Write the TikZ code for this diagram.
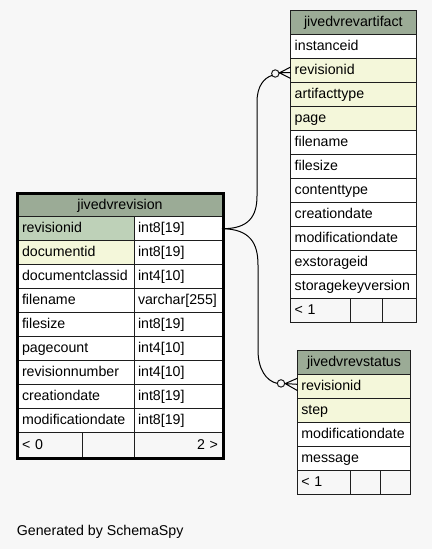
\documentclass[tikz,border=0pt]{standalone}
\usepackage{fontspec}
\setmainfont{Liberation Sans}
\definecolor{bgc}{HTML}{F7F7F7}
\definecolor{hdrc}{HTML}{9BAB96}
\definecolor{pkc}{HTML}{BED1B8}
\definecolor{fkc}{HTML}{F4F7DA}
\definecolor{edgec}{HTML}{1E1E1E}
\newcommand\cellfont{\fontsize{14.2}{16}\selectfont}
\tikzset{
  cell/.style={draw=edgec, line width=0.8pt, fill=white, inner xsep=4pt, inner ysep=0pt,
    outer sep=0pt, minimum height=24pt, text height=11pt, text depth=2.5pt,
    anchor=north west, align=left, font=\cellfont},
  hdr/.style={cell, fill=hdrc, align=center},
  pk/.style={cell, fill=pkc},
  fk/.style={cell, fill=fkc},
  foot/.style={cell, fill=bgc},
  mainL/.style={minimum width=116pt, text width=108pt},
  mainR/.style={minimum width=88pt, text width=80pt},
  artW/.style={minimum width=125.3pt, text width=117.3pt},
  stW/.style={minimum width=113.4pt, text width=105.4pt},
  odot/.style={circle, draw=edgec, fill=bgc, line width=1pt, minimum size=7.4pt, inner sep=0pt, outer sep=0pt},
  rel/.style={draw=black, line width=1pt},
}
\begin{document}
\begin{tikzpicture}[x=1pt,y=-1pt]
\useasboundingbox[fill=bgc] (0,0) rectangle (432,549);

% ---------- jivedvrevision ----------
\node[hdr, minimum width=204pt, text width=196pt, minimum height=23.7pt] (r-h) at (18,193) {jivedvrevision};
\node[pk, mainL] (r-revisionid) at (18,216.7) {revisionid};
\node[cell, mainR] (r-revisionid-t) at (134,216.7) {int8[19]};
\node[fk, mainL] (r-documentid) at (18,240.7) {documentid};
\node[cell, mainR] (r-documentid-t) at (134,240.7) {int8[19]};
\node[cell, mainL] (r-documentclassid) at (18,264.7) {documentclassid};
\node[cell, mainR] (r-documentclassid-t) at (134,264.7) {int4[10]};
\node[cell, mainL] (r-filename) at (18,288.7) {filename};
\node[cell, mainR] (r-filename-t) at (134,288.7) {varchar[255]};
\node[cell, mainL] (r-filesize) at (18,312.7) {filesize};
\node[cell, mainR] (r-filesize-t) at (134,312.7) {int8[19]};
\node[cell, mainL] (r-pagecount) at (18,336.7) {pagecount};
\node[cell, mainR] (r-pagecount-t) at (134,336.7) {int4[10]};
\node[cell, mainL] (r-revisionnumber) at (18,360.7) {revisionnumber};
\node[cell, mainR] (r-revisionnumber-t) at (134,360.7) {int4[10]};
\node[cell, mainL] (r-creationdate) at (18,384.7) {creationdate};
\node[cell, mainR] (r-creationdate-t) at (134,384.7) {int8[19]};
\node[cell, mainL] (r-modificationdate) at (18,408.7) {modificationdate};
\node[cell, mainR] (r-modificationdate-t) at (134,408.7) {int8[19]};
\node[foot, minimum width=64pt, text width=56pt, minimum height=25.3pt] (r-f1) at (18,432.7) {< 0};
\node[foot, minimum width=52pt, minimum height=25.3pt] (r-f2) at (82,432.7) {};
\node[foot, minimum width=88pt, text width=80pt, align=right, minimum height=25.3pt] (r-f3) at (134,432.7) {2 >};
\draw[draw=black, line width=3pt] (17.5,193) rectangle (223,458);

% ---------- jivedvrevartifact ----------
\node[hdr, artW, minimum height=23.3pt] (a-h) at (290.7,10.7) {jivedvrevartifact};
\node[cell, artW] (a-instanceid) at (290.7,34) {instanceid};
\node[fk, artW] (a-revisionid) at (290.7,58) {revisionid};
\node[fk, artW] (a-artifacttype) at (290.7,82) {artifacttype};
\node[fk, artW] (a-page) at (290.7,106) {page};
\node[cell, artW] (a-filename) at (290.7,130) {filename};
\node[cell, artW] (a-filesize) at (290.7,154) {filesize};
\node[cell, artW] (a-contenttype) at (290.7,178) {contenttype};
\node[cell, artW] (a-creationdate) at (290.7,202) {creationdate};
\node[cell, artW] (a-modificationdate) at (290.7,226) {modificationdate};
\node[cell, artW] (a-exstorageid) at (290.7,250) {exstorageid};
\node[cell, artW] (a-storagekeyversion) at (290.7,274) {storagekeyversion};
\node[foot, minimum width=60pt, text width=52pt] (a-f1) at (290.7,298) {< 1};
\node[foot, minimum width=32pt] (a-f2) at (350.7,298) {};
\node[foot, minimum width=33.3pt] (a-f3) at (382.7,298) {};

% ---------- jivedvrevstatus ----------
\node[hdr, stW] (s-h) at (297.3,350.7) {jivedvrevstatus};
\node[fk, stW] (s-revisionid) at (297.3,374.7) {revisionid};
\node[fk, stW] (s-step) at (297.3,398.7) {step};
\node[cell, stW] (s-modificationdate) at (297.3,422.7) {modificationdate};
\node[cell, stW] (s-message) at (297.3,446.7) {message};
\node[foot, minimum width=53.4pt, text width=45.4pt] (s-f1) at (297.3,470.7) {< 1};
\node[foot, minimum width=29.3pt] (s-f2) at (350.7,470.7) {};
\node[foot, minimum width=30.7pt] (s-f3) at (380,470.7) {};

% ---------- relationships ----------
\node[odot] (c1) at (275.3,73.5) {};
\coordinate (c1apex) at (279.5,72.8);
\coordinate (a-t1) at (290.7,67);
\coordinate (a-t2) at (290.7,72.5);
\coordinate (a-t3) at (290.7,78.5);
\draw[rel] (r-revisionid-t.east) .. controls (249,229) and (257,216) .. (257,196)
  -- (257,102) .. controls (257,86) and (264,78) .. (c1.210);
\draw[rel] (c1.east) -- (c1apex);
\draw[rel, line join=round] (a-t1) -- (c1apex) -- (a-t3) (c1apex) -- (a-t2);

\node[odot] (c2) at (281,383.4) {};
\coordinate (c2apex) at (285.2,383.6);
\coordinate (s-t1) at (297.3,378.3);
\coordinate (s-t2) at (297.3,384.3);
\coordinate (s-t3) at (297.3,390.5);
\draw[rel] (r-revisionid-t.east) .. controls (250,229) and (258,243) .. (258,265)
  -- (258,350) .. controls (258,369) and (266,381) .. (c2.west);
\draw[rel] (c2.east) -- (c2apex);
\draw[rel, line join=round] (s-t1) -- (c2apex) -- (s-t3) (c2apex) -- (s-t2);

\node[anchor=base west, font=\cellfont, inner sep=0pt] (gen) at (16.7,535) {Generated by SchemaSpy};
\end{tikzpicture}
\end{document}
